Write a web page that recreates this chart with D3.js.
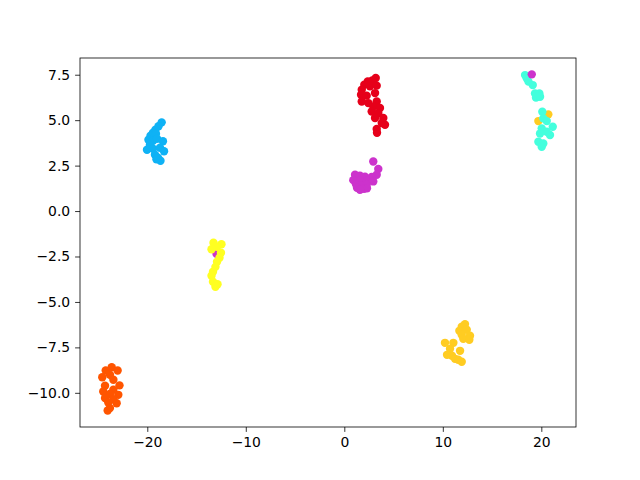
<!DOCTYPE html>
<html>
<head>
<meta charset="utf-8">
<script src="https://cdn.jsdelivr.net/npm/d3@7"></script>
<style>
body{margin:0;background:#fff;}
text{font-family:"DejaVu Sans",sans-serif;}
</style>
</head>
<body>
<svg id="chart" width="640" height="480"></svg>
<script>
// Series data: [x, y]
const goldPts = [[12.25,-6.22],[11.92,-6.36],[11.68,-6.59],[12.43,-6.53],[12.76,-6.86],[11.92,-6.81],[12.08,-7.03],[12.69,-7.08],[10.22,-7.25],[11.07,-7.25],[10.73,-7.58],[11.75,-7.69],[10.43,-7.91],[10.93,-7.96],[11.24,-8.13],[11.57,-8.18],[11.92,-8.29],[20.71,5.32],[19.70,4.95]];
const aquaPts = [[18.35,7.48],[18.52,7.30],[18.70,7.12],[19.13,6.93],[19.36,6.47],[19.80,6.47],[19.46,6.24],[19.87,6.29],[20.10,5.46],[20.20,5.10],[20.55,4.95],[21.16,4.64],[20.04,4.55],[20.55,4.36],[20.88,4.18],[19.87,4.27],[19.70,3.81],[20.20,3.72],[20.04,3.54]];
const magentaPts = [[2.94,2.73],[3.45,2.31],[3.29,2.00],[1.09,2.00],[1.59,1.94],[2.10,1.89],[2.78,1.87],[0.91,1.70],[1.59,1.67],[2.30,1.67],[2.94,1.63],[1.19,1.47],[1.80,1.39],[2.27,1.45],[1.29,1.28],[2.00,1.23],[2.30,1.25],[1.59,1.17],[19.03,7.52],[-12.97,-2.35]];
const yellowPts = [[-13.28,-1.74],[-12.47,-1.83],[-12.92,-1.96],[-13.48,-2.10],[-12.52,-2.29],[-12.67,-2.57],[-12.92,-2.79],[-13.08,-3.07],[-13.33,-3.34],[-13.48,-3.56],[-13.33,-3.89],[-12.87,-4.03],[-13.08,-4.17]];
const bluePts = [[-18.54,4.88],[-18.86,4.67],[-19.17,4.47],[-19.42,4.31],[-19.67,4.14],[-19.12,4.25],[-19.88,3.92],[-19.42,3.87],[-19.01,3.98],[-18.41,3.84],[-19.73,3.65],[-20.03,3.37],[-19.42,3.43],[-18.71,3.48],[-18.30,3.29],[-19.22,3.10],[-19.07,2.85],[-18.66,2.77],[-18.92,2.94]];
const orangePts = [[-23.61,-8.59],[-24.22,-8.77],[-23.01,-8.77],[-23.79,-9.01],[-24.57,-9.14],[-23.44,-9.28],[-22.82,-9.59],[-24.29,-9.61],[-23.44,-9.83],[-24.47,-9.93],[-23.79,-10.06],[-22.94,-10.11],[-24.29,-10.29],[-23.45,-10.35],[-23.96,-10.53],[-23.11,-10.57],[-23.79,-10.84],[-24.02,-10.97]];
const redPts = [[3.19,7.32],[2.84,7.19],[2.38,7.13],[2.03,6.95],[2.61,6.86],[3.29,6.90],[1.77,6.68],[1.70,6.40],[2.27,6.35],[3.12,6.49],[1.77,6.03],[2.44,5.94],[3.29,6.03],[2.94,5.76],[3.62,5.67],[2.78,5.48],[3.45,5.39],[3.12,5.12],[3.96,5.12],[3.80,4.84],[4.13,4.75],[3.29,4.51],[3.32,4.31]];

const xTicks = [-20,-10,0,10,20];
const yTicks = [-10.0,-7.5,-5.0,-2.5,0.0,2.5,5.0,7.5];

const series = [
  {pts: bluePts, color: "#0fb2f5"},
  {pts: orangePts, color: "#ff5500"},
  {pts: redPts, color: "#e6001a"},
  {pts: goldPts, color: "#ffcc22"},
  {pts: aquaPts, color: "#44ffdd"},
  {pts: magentaPts, color: "#cc33cc"},
  {pts: yellowPts, color: "#ffff22"}
];

const svg = d3.select("#chart");
const L = 80, R = 576, T = 58, B = 427;
const x = d3.scaleLinear().domain([-26.83, 23.52]).range([L, R]);
const y = d3.scaleLinear().domain([-11.88, 8.42]).range([B, T]);

const g = svg.append("g");
series.forEach(s => {
  g.selectAll(null).data(s.pts).enter().append("circle")
    .attr("cx", d => x(d[0])).attr("cy", d => y(d[1]))
    .attr("r", 4.2).attr("fill", s.color);
});

const fmtY = d3.format(".1f");
const xAxis = d3.axisBottom(x).tickValues(xTicks).tickSize(4.9).tickPadding(4.9)
  .tickFormat(d => d3.format("d")(d).replace("-", "\u2212"));
const yAxis = d3.axisLeft(y).tickValues(yTicks).tickSize(4.9).tickPadding(4.9)
  .tickFormat(d => fmtY(d).replace("-", "\u2212"));

const gx = svg.append("g").attr("transform", `translate(0,${B})`).call(xAxis);
const gy = svg.append("g").attr("transform", `translate(${L},0)`).call(yAxis);
[gx, gy].forEach(a => {
  a.select(".domain").remove();
  a.selectAll("line").attr("stroke", "#000").attr("stroke-width", 0.8);
  a.selectAll("text").attr("font-size", "13.9px").attr("fill", "#000")
    .style("font-family", "'DejaVu Sans', sans-serif");
});

svg.append("rect").attr("x", L).attr("y", T).attr("width", R - L).attr("height", B - T)
  .attr("fill", "none").attr("stroke", "#000").attr("stroke-width", 0.8);
</script>
</body>
</html>
